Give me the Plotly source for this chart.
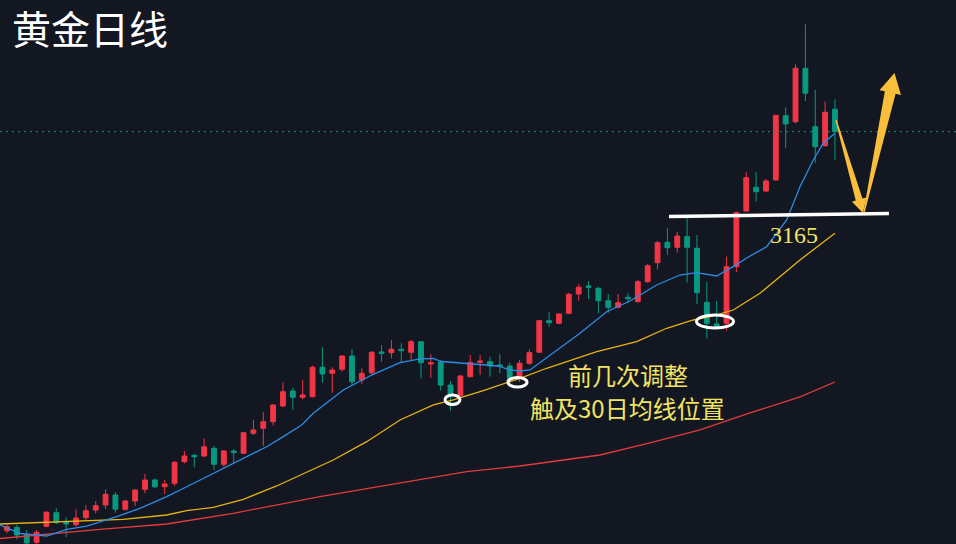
import plotly.graph_objects as go

# ---------------- data (gold daily) ----------------
idx = list(range(-1, 85))
opens = [2591.8, 2606.4, 2612.4, 2599.7, 2586.0, 2614.2, 2638.2, 2620.9, 2617.0, 2629.4,
         2642.9, 2651.8, 2669.4, 2644.2, 2658.8, 2679.4, 2695.8, 2684.0, 2690.0, 2728.1,
         2739.4, 2738.1, 2751.7, 2723.5, 2747.0, 2742.9, 2778.2, 2787.0, 2798.6, 2826.3,
         2852.7, 2841.6, 2842.7, 2894.5, 2883.9, 2891.0, 2914.4, 2872.1, 2885.0, 2921.5,
         2920.3, 2926.3, 2921.0, 2939.7, 2900.3, 2903.9, 2863.3, 2844.8, 2878.0, 2903.3,
         2904.4, 2898.6, 2896.8, 2875.1, 2901.6, 2921.0, 2976.7, 2972.1, 2989.7, 3023.8,
         3037.9, 3033.8, 3011.9, 3000.3, 3017.9, 3010.2, 3045.4, 3078.9, 3114.9, 3106.1,
         3124.8, 3104.3, 3009.1, 2970.9, 2972.1, 3071.9, 3170.1, 3211.9, 3205.3, 3224.7,
         3338.1, 3327.5, 3421.6, 3318.7, 3285.2, 3349.4]
highs = [2598.9, 2617.4, 2617.0, 2607.7, 2607.7, 2641.2, 2645.9, 2630.1, 2644.2, 2651.2,
         2658.8, 2679.4, 2674.1, 2660.6, 2679.4, 2706.9, 2698.8, 2695.8, 2729.3, 2747.0,
         2741.7, 2769.4, 2755.8, 2748.7, 2750.0, 2781.0, 2801.6, 2815.2, 2829.8, 2868.1,
         2858.6, 2872.1, 2897.3, 2929.8, 2894.5, 2916.2, 2926.8, 2892.8, 2923.3, 2933.8,
         2942.7, 2936.8, 2942.7, 2940.9, 2917.4, 2907.4, 2870.4, 2881.0, 2916.2, 2916.2,
         2913.2, 2917.4, 2902.6, 2907.4, 2926.3, 2977.9, 2992.5, 2989.7, 3026.0, 3040.9,
         3046.7, 3036.6, 3023.8, 3023.8, 3025.0, 3048.4, 3076.6, 3117.2, 3139.6, 3133.6,
         3157.7, 3127.8, 3045.4, 3011.4, 3089.5, 3168.8, 3238.3, 3238.3, 3226.5, 3339.3,
         3352.9, 3428.7, 3499.2, 3383.4, 3362.8, 3367.0]
lows = [2590.1, 2601.9, 2591.3, 2581.2, 2583.0, 2612.4, 2618.3, 2595.3, 2613.5, 2625.3,
        2637.1, 2644.7, 2638.2, 2641.7, 2650.0, 2672.4, 2681.2, 2671.2, 2685.3, 2725.3,
        2718.2, 2735.9, 2713.5, 2718.2, 2726.3, 2741.7, 2775.2, 2755.8, 2791.6, 2824.0,
        2819.2, 2838.1, 2841.6, 2867.4, 2849.7, 2886.8, 2863.3, 2865.1, 2879.7, 2904.4,
        2910.4, 2901.6, 2907.4, 2875.1, 2875.7, 2853.6, 2818.0, 2843.9, 2876.9, 2881.0,
        2878.0, 2883.9, 2872.1, 2868.6, 2898.6, 2920.3, 2966.1, 2970.3, 2988.5, 3011.9,
        3014.9, 2989.7, 2990.8, 2998.5, 3008.4, 3008.4, 3043.7, 3067.3, 3092.5, 3096.6,
        3043.7, 3006.1, 2945.6, 2966.1, 2959.1, 3062.0, 3168.3, 3186.5, 3203.0, 3223.5,
        3280.9, 3324.7, 3364.0, 3255.2, 3283.4, 3260.0]
closes = [2597.1, 2613.5, 2598.9, 2584.8, 2603.6, 2638.9, 2620.6, 2618.3, 2628.8, 2641.7,
          2650.5, 2670.6, 2644.2, 2658.8, 2678.2, 2695.8, 2684.0, 2688.8, 2727.0, 2738.1,
          2736.9, 2754.5, 2723.5, 2747.0, 2744.0, 2779.2, 2784.0, 2798.6, 2828.1, 2851.5,
          2841.6, 2845.7, 2894.5, 2882.7, 2889.8, 2914.4, 2869.1, 2883.9, 2921.0, 2919.2,
          2926.3, 2923.8, 2939.7, 2902.6, 2902.6, 2863.3, 2847.5, 2879.2, 2903.3, 2905.6,
          2896.8, 2896.8, 2875.1, 2901.6, 2920.3, 2976.7, 2973.2, 2988.5, 3023.2, 3035.6,
          3035.6, 3011.9, 3000.3, 3008.4, 3015.5, 3045.4, 3073.6, 3114.2, 3105.4, 3126.0,
          3106.1, 3026.0, 2972.1, 2967.3, 3071.9, 3167.1, 3228.8, 3204.1, 3223.0, 3338.8,
          3323.5, 3421.6, 3377.6, 3283.4, 3344.1, 3309.9]

# moving averages
ma10_x = [-0.71, 1.32, 4.03, 6.06, 8.09, 11.13, 13.49, 16.20, 18.23, 20.26, 22.96, 26.35,
          28.03, 29.90, 31.07, 34.12, 37.16, 39.87, 41.90, 43.22, 44.10, 46.77, 49.82,
          51.03, 52.04, 53.06, 55.09, 58.13, 60.84, 63.20, 65.91, 68.27, 69.97, 72.00,
          73.68, 75.04, 77.07, 79.10, 80.45, 81.80, 82.81, 84.00]
ma10_y = [2616.5, 2601.9, 2597.1, 2608.9, 2614.7, 2631.1, 2645.9, 2666.4, 2684.0, 2701.6,
          2725.3, 2754.5, 2772.2, 2792.8, 2813.4, 2854.5, 2882.2, 2902.6, 2909.2, 2910.0,
          2904.7, 2901.6, 2896.8, 2889.8, 2888.0, 2889.8, 2916.2, 2954.5, 2992.5, 3011.4,
          3039.6, 3057.2, 3061.3, 3055.5, 3071.9, 3087.2, 3107.1, 3154.2, 3212.9, 3260.0,
          3289.4, 3307.1]
ma30_x = [-0.71, 6.06, 11.77, 16.20, 18.23, 20.93, 23.97, 27.36, 29.73, 33.10, 36.49,
          39.87, 43.25, 45.28, 48.32, 52.04, 54.75, 59.83, 63.88, 66.93, 69.63, 71.66,
          73.68, 76.39, 80.45, 84.00]
ma30_y = [2618.3, 2622.3, 2626.5, 2634.1, 2641.7, 2647.7, 2661.8, 2685.3, 2704.6, 2731.1,
          2763.4, 2801.6, 2828.1, 2836.9, 2853.3, 2875.1, 2892.8, 2922.0, 2939.7, 2963.3,
          2977.9, 2985.0, 2995.5, 3025.0, 3083.7, 3130.8]
ma60_x = [-0.71, 9.43, 16.20, 22.96, 31.75, 39.87, 46.64, 52.04, 60.16, 65.23, 70.31,
          75.38, 80.45, 84.00]
ma60_y = [2592.7, 2608.9, 2618.3, 2637.1, 2666.4, 2690.0, 2710.5, 2720.5, 2739.9, 2761.1,
          2784.0, 2814.0, 2842.2, 2868.6]

support_level = 3165
title_text = "黄金日线"
note_lines = ["前几次调整", "触及30日均线位置"]

# ---------------- figure ----------------
W, H = 956, 544
BG = "#131722"
UP, DOWN = "#f23645", "#089981"
YEL = "#f2e463"
ARROW = "#f9bf3b"


def px(x, y):
    return x / W, 1 - y / H


fig = go.Figure()
fig.add_trace(go.Candlestick(
    x=idx, open=opens, high=highs, low=lows, close=closes,
    increasing=dict(line=dict(color=UP, width=1), fillcolor=UP),
    decreasing=dict(line=dict(color=DOWN, width=1), fillcolor=DOWN),
    showlegend=False, hoverinfo="skip"))
fig.add_trace(go.Scatter(x=ma60_x, y=ma60_y, mode="lines",
                         line=dict(color="#e23b3b", width=1.3), showlegend=False))
fig.add_trace(go.Scatter(x=ma30_x, y=ma30_y, mode="lines",
                         line=dict(color="#e8b30f", width=1.3), showlegend=False))
fig.add_trace(go.Scatter(x=ma10_x, y=ma10_y, mode="lines",
                         line=dict(color="#2b8ce6", width=1.3), showlegend=False))

shapes = []
# last price dotted line
shapes.append(dict(type="line", xref="paper", yref="y", x0=0, x1=1,
                   y0=closes[-1], y1=closes[-1],
                   line=dict(color="#1f8f80", width=1, dash="2px,4px")))
# white support line
a = px(669, 216.5); b = px(889, 213.5)
shapes.append(dict(type="line", xref="paper", yref="paper", x0=a[0], y0=a[1],
                   x1=b[0], y1=b[1], line=dict(color="white", width=3.5)))
# ellipses
for (x0, x1, y0, y1) in [(445, 460, 395, 404.5), (508, 527, 377.5, 387),
                         (696.5, 733.5, 315, 328)]:
    p0 = px(x0, y1); p1 = px(x1, y0)
    shapes.append(dict(type="circle", xref="paper", yref="paper",
                       x0=p0[0], y0=p0[1], x1=p1[0], y1=p1[1],
                       line=dict(color="white", width=3)))


def arrow_path(tail, tip, w_tail, w_base, head_len, head_half):
    tx, ty = tail
    hx, hy = tip
    dx, dy = hx - tx, hy - ty
    L = (dx * dx + dy * dy) ** 0.5
    ux, uy = dx / L, dy / L
    nx, ny = -uy, ux
    bx, by = hx - ux * head_len, hy - uy * head_len
    pts = [
        (tx + nx * w_tail, ty + ny * w_tail),
        (bx + nx * w_base, by + ny * w_base),
        (bx + nx * head_half, by + ny * head_half),
        (hx, hy),
        (bx - nx * head_half, by - ny * head_half),
        (bx - nx * w_base, by - ny * w_base),
        (tx - nx * w_tail, ty - ny * w_tail),
    ]
    s = ""
    for i, (x, y) in enumerate(pts):
        u, v = px(x, y)
        s += ("M" if i == 0 else "L") + f"{u:.5f},{v:.5f} "
    return s + "Z"


shapes.append(dict(type="path", xref="paper", yref="paper",
                   path=arrow_path((836, 120), (863, 213), 0.6, 3.5, 14, 7.5),
                   fillcolor=ARROW, line=dict(width=0)))
shapes.append(dict(type="path", xref="paper", yref="paper",
                   path=arrow_path((864, 212.5), (894.5, 73), 0.6, 5.5, 20, 11),
                   fillcolor=ARROW, line=dict(width=0)))

annotations = []
t = px(90, 27)
annotations.append(dict(xref="paper", yref="paper", x=t[0], y=t[1], text=title_text,
                        showarrow=False, xanchor="center", yanchor="middle",
                        font=dict(family="Noto Sans CJK SC", size=39, color="white")))
t = px(794, 235)
annotations.append(dict(xref="paper", yref="paper", x=t[0], y=t[1], text=str(support_level),
                        showarrow=False, xanchor="center", yanchor="middle",
                        font=dict(family="Liberation Serif", size=24, color=YEL)))
for (cx, cy), line in zip([(628, 374.5), (627.5, 407.5)], note_lines):
    t = px(cx, cy)
    annotations.append(dict(xref="paper", yref="paper", x=t[0], y=t[1], text=line,
                            showarrow=False, xanchor="center", yanchor="middle",
                            font=dict(family="Noto Sans CJK SC", size=24, color=YEL)))

fig.update_layout(
    width=W, height=H, margin=dict(l=0, r=0, t=0, b=0),
    paper_bgcolor=BG, plot_bgcolor=BG,
    xaxis=dict(range=[-0.71, 96.28], visible=False, rangeslider=dict(visible=False),
               fixedrange=True),
    yaxis=dict(range=[2583, 3542], visible=False, fixedrange=True),
    shapes=shapes, annotations=annotations, showlegend=False,
)

fig.write_html("out.html", config={"displayModeBar": False},
               post_script="document.body.style.margin='0';"
                           "document.body.style.background='#131722';")
